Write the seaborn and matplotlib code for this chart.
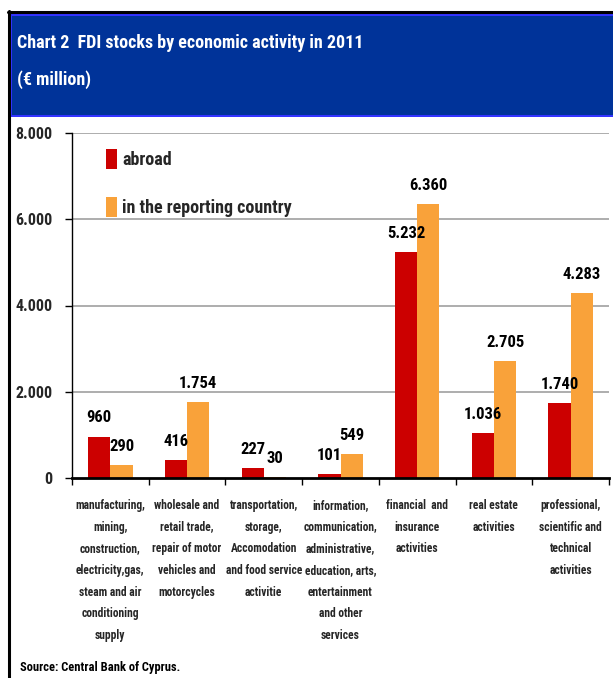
import matplotlib
matplotlib.use("Agg")
import matplotlib.pyplot as plt
from matplotlib import font_manager
from matplotlib.patches import Rectangle
from matplotlib.lines import Line2D
import seaborn as sns
import pandas as pd

categories = [
    "manufacturing,\nmining,\nconstruction,\nelectricity,gas,\nsteam and air\nconditioning\nsupply",
    "wholesale and\nretail trade,\nrepair of motor\nvehicles and\nmotorcycles",
    "transportation,\nstorage,\nAccomodation\nand food service\nactivitie",
    "information,\ncommunication,\nadministrative,\neducation, arts,\nentertainment\nand other\nservices",
    "financial  and\ninsurance\nactivities",
    "real estate\nactivities",
    "professional,\nscientific and\ntechnical\nactivities",
]
abroad = [960, 416, 227, 101, 5232, 1036, 1740]
reporting = [290, 1754, 30, 549, 6360, 2705, 4283]
series_names = ["abroad", "in the reporting country"]
yticks = [0, 2000, 4000, 6000, 8000]

avail = {f.name for f in font_manager.fontManager.ttflist}
narrow = None
for cand in ["Liberation Sans Narrow", "Roboto Condensed", "Open Sans Condensed", "Noto Sans", "DejaVu Sans"]:
    if cand in avail:
        narrow = cand
        break

sns.set_theme(style="white")
plt.rcParams["font.family"] = [narrow, "DejaVu Sans"]
plt.rcParams["font.weight"] = "bold"

df = pd.DataFrame({
    "category": categories * 2,
    "value": abroad + reporting,
    "series": [series_names[0]] * len(categories) + [series_names[1]] * len(categories),
})

W, H = 613, 678
fig = plt.figure(figsize=(W / 100, H / 100), dpi=100)
fig.patch.set_facecolor("white")

def fx(px):
    return px / W

def fy(py):
    return 1 - py / H

ax = fig.add_axes([fx(72), fy(478), fx(609) - fx(72), fy(133) - fy(478)])
palette = {series_names[0]: "#CC0000", series_names[1]: "#F9A23A"}
sns.barplot(data=df, x="category", y="value", hue="series", palette=palette,
            width=0.58, ax=ax, saturation=1, edgecolor="none", errorbar=None)

ax.set_ylim(0, 8000)
ax.set_xlim(-0.5, len(categories) - 0.5)
ax.set_yticks(yticks)
ax.set_yticklabels([f"{v:,}".replace(",", ".") for v in yticks], fontsize=11.5, fontweight="bold")
ax.tick_params(axis="y", which="major", left=True, length=5, width=1, color="black", pad=9)
for y in yticks[1:]:
    ax.axhline(y, color="#A0A0A0", lw=1.2, zorder=0)

ax.set_xticks(range(len(categories)))
ax.set_xticklabels(categories, fontsize=8.3, fontweight="bold", linespacing=1.87, va="top")
ax.tick_params(axis="x", which="major", length=0, pad=15)
ax.set_xticks([i - 0.5 for i in range(len(categories) + 1)], minor=True)
ax.tick_params(axis="x", which="minor", bottom=True, length=5, width=1, color="black", direction="out")
ax.set_xlabel("")
ax.set_ylabel("")

for s in ["top", "right"]:
    ax.spines[s].set_visible(False)
ax.spines["left"].set_color("black")
ax.spines["left"].set_linewidth(1)
ax.spines["bottom"].set_color("black")
ax.spines["bottom"].set_linewidth(2)

for cont, vals in zip(ax.containers, [abroad, reporting]):
    ax.bar_label(cont, labels=[f"{v:,}".replace(",", ".") for v in vals],
                 padding=8, fontsize=12, fontweight="bold", color="black")

handles, labels = ax.get_legend_handles_labels()
ax.legend(handles, labels, loc="upper left", bbox_to_anchor=(fx(106), fy(149)),
          bbox_transform=fig.transFigure, frameon=False,
          prop={"weight": "bold", "size": 13}, handlelength=0.6, handleheight=1.3,
          handletextpad=0.3, labelspacing=1.55, borderpad=0, borderaxespad=0)

# header / frame
fig.add_artist(Line2D([fx(8.5), fx(8.5)], [fy(11), fy(678)], color="black", lw=2.2, transform=fig.transFigure))
fig.add_artist(Line2D([fx(8), 1], [fy(12), fy(12)], color="black", lw=2.2, transform=fig.transFigure))
fig.add_artist(Rectangle((fx(10), fy(117)), 1 - fx(10), fy(13) - fy(117), transform=fig.transFigure,
                         facecolor="#3333FF", edgecolor="none"))
fig.add_artist(Rectangle((fx(12), fy(115)), 1 - fx(12), fy(16) - fy(115), transform=fig.transFigure,
                         facecolor="#003399", edgecolor="none"))
fig.text(fx(17), fy(43), "Chart 2  FDI stocks by economic activity in 2011", color="white",
         fontsize=13, fontweight="bold", va="center", ha="left")
fig.text(fx(17), fy(80), "(€ million)", color="white",
         fontsize=13, fontweight="bold", va="center", ha="left")
fig.text(fx(20), fy(667), "Source: Central Bank of Cyprus.", color="black",
         fontsize=9, fontweight="bold", va="center", ha="left")

fig.savefig("out.png", dpi=100)
